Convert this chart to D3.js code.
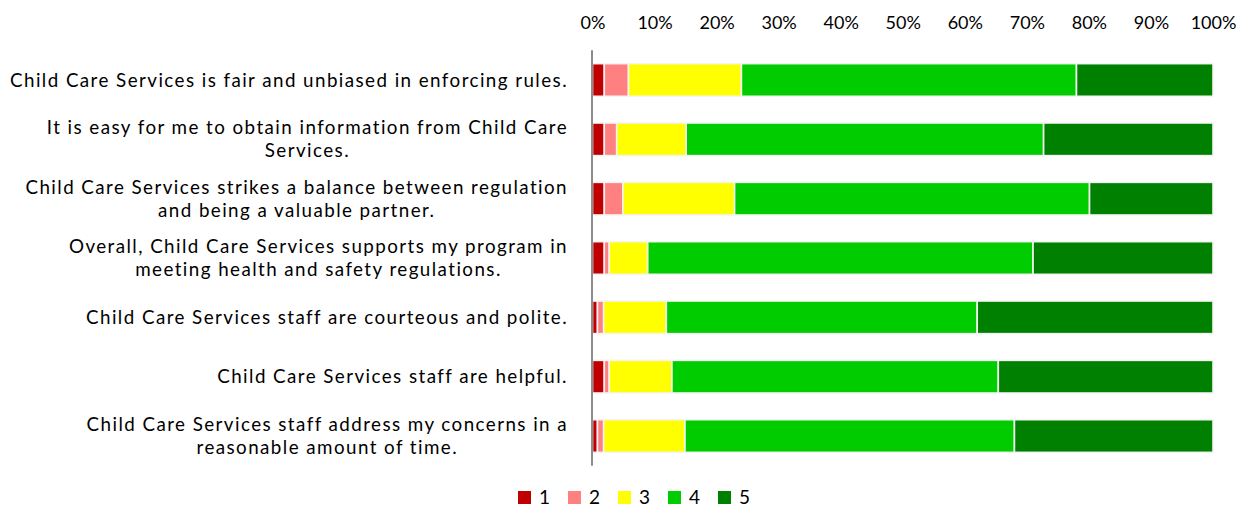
<!DOCTYPE html>
<html>
<head>
<meta charset="utf-8">
<script src="https://cdn.jsdelivr.net/npm/d3@7"></script>
<style>
  body { margin: 0; background: #fff; }
  svg { display: block; }
  text { font-family: Lato, "Open Sans", sans-serif; fill: #000; }
</style>
</head>
<body>
<div class="chart"></div>
<script>
// survey statements, "\n" marks the line break used in the picture
const categories = [
  'Child Care Services is fair and unbiased in enforcing rules.',
  'It is easy for me to obtain information from Child Care\nServices.',
  'Child Care Services strikes a balance between regulation\nand being a valuable partner.',
  'Overall, Child Care Services supports my program in\nmeeting health and safety regulations.',
  'Child Care Services staff are courteous and polite.',
  'Child Care Services staff are helpful.',
  'Child Care Services staff address my concerns in a\nreasonable amount of time.'
];
const ratings = ['1', '2', '3', '4', '5'];
// percent of answers per rating
const r1 = [1.9, 1.9, 1.9, 1.9, 0.8, 1.9, 0.8];
const r2 = [3.9, 2.0, 3.0, 0.8, 1.0, 0.8, 1.0];
const r3 = [18.2, 11.2, 18.0, 6.2, 10.1, 10.1, 13.1];
const r4 = [54.0, 57.6, 57.2, 62.1, 50.1, 52.6, 53.1];
const r5 = [22.0, 27.3, 19.9, 29.0, 38.0, 34.6, 32.0];
const tickValues = [0, 0.1, 0.2, 0.3, 0.4, 0.5, 0.6, 0.7, 0.8, 0.9, 1];
const colors = ['#C00000', '#FF8080', '#FFFF00', '#00CC00', '#008000'];

const W = 1246, H = 508;
const svg = d3.select('.chart').append('svg')
  .attr('width', W)
  .attr('height', H);

const table = categories.map((c, i) => {
  const vals = [r1[i], r2[i], r3[i], r4[i], r5[i]];
  const tot = d3.sum(vals);
  const row = { cat: c };
  ratings.forEach((r, j) => row[r] = vals[j] / tot);
  return row;
});

const stack = d3.stack().keys(ratings);
const series = stack(table);

const x = d3.scaleLinear().domain([0, 1]).range([592.5, 1213]);
const y = d3.scaleBand()
  .domain(categories)
  .range([50.3, 465.7])
  .paddingInner(0.45)
  .paddingOuter(0.225);
const color = d3.scaleOrdinal().domain(ratings).range(colors);

// fixed size, letter spacing stretches the longest label to the picture width
const fs = 18.8;
const probe = svg.append('text').attr('font-size', fs).text(categories[0]);
const ls = (558 - probe.node().getComputedTextLength()) / categories[0].length;
probe.remove();

// top axis
const xAxis = d3.axisTop(x)
  .tickValues(tickValues)
  .tickFormat(d3.format('.0%'))
  .tickSize(0)
  .tickPadding(0);
const gx = svg.append('g')
  .attr('transform', 'translate(0, 29)')
  .call(xAxis);
gx.select('.domain').remove();
gx.selectAll('text')
  .attr('font-size', 18)
  .attr('fill', '#000')
  .style('font-family', 'Lato, "Open Sans", sans-serif');

// bars
svg.append('g')
  .selectAll('g')
  .data(series)
  .join('g')
  .attr('fill', d => color(d.key))
  .selectAll('rect')
  .data(d => d)
  .join('rect')
  .attr('x', d => x(d[0]))
  .attr('y', d => y(d.data.cat))
  .attr('width', d => x(d[1]) - x(d[0]))
  .attr('height', y.bandwidth())
  .attr('stroke', '#f4f4f4')
  .attr('stroke-width', 1.6);

// vertical axis line
svg.append('line')
  .attr('x1', 592).attr('x2', 592)
  .attr('y1', y.range()[0]).attr('y2', y.range()[1])
  .attr('stroke', '#8c8c8c')
  .attr('stroke-width', 2);

// category labels: block right-aligned, lines centred within block
const lineH = 23;
const labels = svg.append('g');
categories.forEach(c => {
  const lines = c.split('\n');
  const g = labels.append('g');
  const cy = y(c) + y.bandwidth() / 2;
  const t = g.selectAll('text')
    .data(lines)
    .join('text')
    .attr('font-size', fs)
    .attr('letter-spacing', ls)
    .attr('text-anchor', 'middle')
    .attr('dy', '0.35em')
    .attr('y', (d, i) => cy + (i - (lines.length - 1) / 2) * lineH)
    .text(d => d);
  const wmax = d3.max(t.nodes(), n => n.getComputedTextLength());
  t.attr('x', 568 - wmax / 2);
});

// legend
const leg = svg.append('g').attr('transform', 'translate(518, 491)');
const item = leg.selectAll('g')
  .data(ratings)
  .join('g')
  .attr('transform', (d, i) => `translate(${i * 50}, 0)`);
item.append('rect')
  .attr('width', 13).attr('height', 13)
  .attr('fill', d => color(d));
item.append('text')
  .attr('x', 21).attr('y', 6.5)
  .attr('dy', '0.36em')
  .attr('font-size', 19)
  .text(d => d);
</script>
</body>
</html>
